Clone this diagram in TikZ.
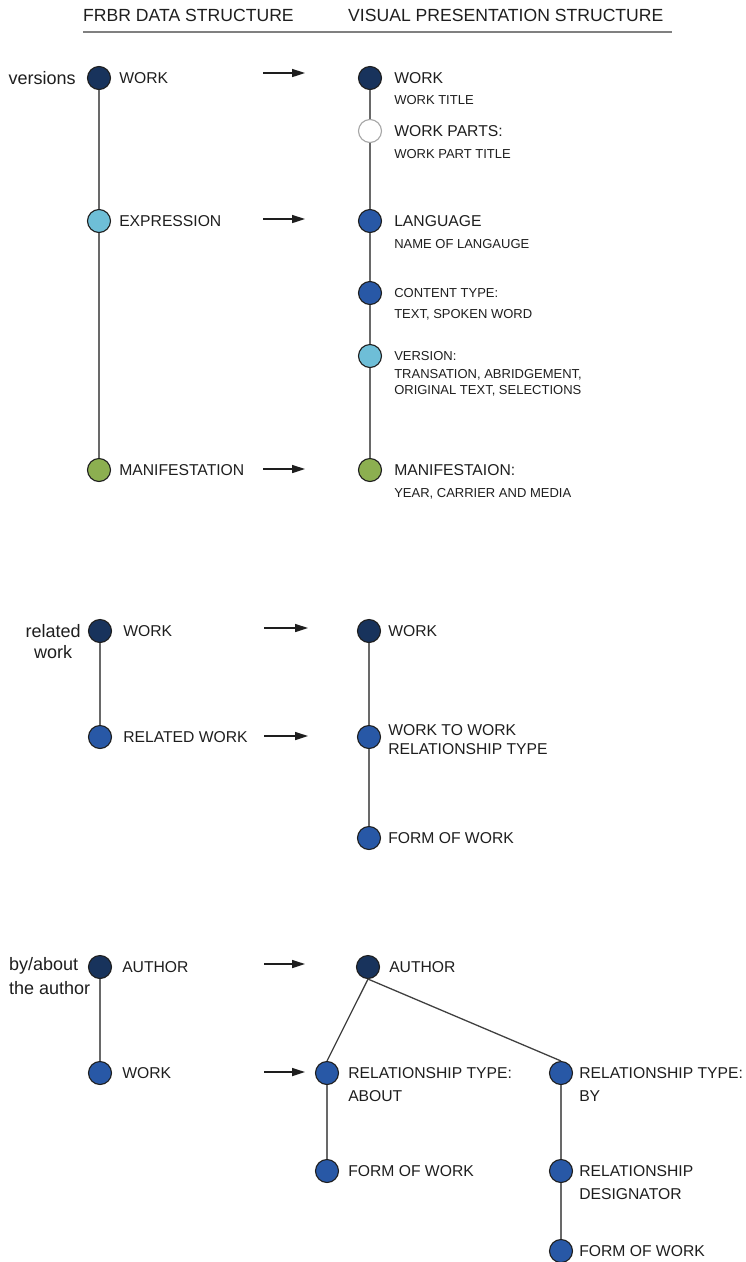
\documentclass[tikz,border=0pt]{standalone}
\usepackage{fontspec}
\setmainfont{Liberation Sans}
\usetikzlibrary{positioning, arrows.meta}
\definecolor{navy}{RGB}{24,51,92}
\definecolor{royal}{RGB}{40,88,166}
\definecolor{sky}{RGB}{110,190,215}
\definecolor{leaf}{RGB}{140,175,80}
\definecolor{ink}{RGB}{30,30,30}
\definecolor{stemgray}{RGB}{105,105,105}

\tikzset{
    dot/.style={circle, draw=ink, line width=1.1pt, minimum size=23pt, inner sep=0pt},
    head/.style={font=\fontsize{17.6}{20}\selectfont, text=ink, inner sep=0pt},
    main/.style={font=\fontsize{15.7}{18}\selectfont, text=ink, inner sep=0pt},
    small/.style={font=\fontsize{13}{16}\selectfont, text=ink, inner sep=0pt},
    note/.style={font=\fontsize{18}{21}\selectfont, text=ink, inner sep=0pt},
    stem/.style={draw=stemgray, line width=2pt},
    twig/.style={draw=ink!85, line width=1.3pt},
    pointer/.style={-{Triangle[length=13pt, width=8pt]}, draw=ink, line width=1.6pt}
}

\begin{document}
\begin{tikzpicture}[x=1pt, y=-1pt]
    \useasboundingbox (0,0) rectangle (745,1262);

    % headings
    \node[head, anchor=west] (frbr) at (83,15) {FRBR DATA STRUCTURE};
    \node[head, anchor=west] (visual) at (348,15) {VISUAL PRESENTATION STRUCTURE};
    \coordinate (ruleL) at (83,32);
    \coordinate (ruleR) at (672,32);
    \draw[draw=gray, line width=2.5pt] (ruleL) -- (ruleR);

    % versions
    \node[dot, fill=navy] (vW) at (99,78) {};
    \node[dot, fill=sky] (vE) at (99,221) {};
    \node[dot, fill=leaf] (vM) at (99,470) {};
    \draw[stem] (vW) -- (vE) -- (vM);
    \node[note, left=11pt of vW] (vNote) {versions};
    \node[main, right=8pt of vW] (vWt) {WORK};
    \node[main, right=8pt of vE] (vEt) {EXPRESSION};
    \node[main, right=8pt of vM] (vMt) {MANIFESTATION};

    \node[dot, fill=navy] (pW) at (370,78) {};
    \node[dot, fill=white, draw=gray!70] (pP) at (370,131) {};
    \node[dot, fill=royal] (pL) at (370,221) {};
    \node[dot, fill=royal] (pC) at (370,293) {};
    \node[dot, fill=sky] (pV) at (370,356) {};
    \node[dot, fill=leaf] (pM) at (370,470) {};
    \draw[stem] (pW) -- (pP) -- (pL) -- (pC) -- (pV) -- (pM);
    \node[main, right=12pt of pW] (pWt) {WORK};
    \node[small, below=22pt of pWt.west, anchor=west] (pWs) {WORK TITLE};
    \node[main, right=12pt of pP] (pPt) {WORK PARTS:};
    \node[small, below=23pt of pPt.west, anchor=west] (pPs) {WORK PART TITLE};
    \node[main, right=12pt of pL] (pLt) {LANGUAGE};
    \node[small, below=23pt of pLt.west, anchor=west] (pLs) {NAME OF LANGAUGE};
    \node[small, right=12pt of pC] (pCt) {CONTENT TYPE:};
    \node[small, below=22pt of pCt.west, anchor=west] (pCs) {TEXT, SPOKEN WORD};
    \node[small, right=12pt of pV] (pVt) {VERSION:};
    \node[small, align=left, below=27pt of pVt.west, anchor=west] (pVs) {TRANSATION, ABRIDGEMENT,\\ORIGINAL TEXT, SELECTIONS};
    \node[main, right=12pt of pM] (pMt) {MANIFESTAION:};
    \node[small, below=24pt of pMt.west, anchor=west] (pMs) {YEAR, CARRIER AND MEDIA};

    \coordinate (v1a) at (263,73);  \coordinate (v1b) at (305,73);
    \coordinate (v2a) at (263,219); \coordinate (v2b) at (305,219);
    \coordinate (v3a) at (263,469); \coordinate (v3b) at (305,469);
    \draw[pointer] (v1a) -- (v1b);
    \draw[pointer] (v2a) -- (v2b);
    \draw[pointer] (v3a) -- (v3b);

    % related work
    \node[dot, fill=navy] (rW) at (100,631) {};
    \node[dot, fill=royal] (rR) at (100,737) {};
    \draw[stem] (rW) -- (rR);
    \node[note, align=center, left=7pt of rW, anchor=north east, yshift=7pt] (rNote) {related\\work};
    \node[main, right=11pt of rW] (rWt) {WORK};
    \node[main, right=11pt of rR] (rRt) {RELATED WORK};

    \node[dot, fill=navy] (qW) at (369,631) {};
    \node[dot, fill=royal] (qT) at (369,737) {};
    \node[dot, fill=royal] (qF) at (369,838) {};
    \draw[stem] (qW) -- (qT) -- (qF);
    \node[main, right=7pt of qW] (qWt) {WORK};
    \node[main, align=left, font=\fontsize{15.7}{19}\selectfont, right=7pt of qT, yshift=-2.5pt] (qTt) {WORK TO WORK\\RELATIONSHIP TYPE};
    \node[main, right=7pt of qF] (qFt) {FORM OF WORK};

    \coordinate (r1a) at (264,628); \coordinate (r1b) at (308,628);
    \coordinate (r2a) at (264,736); \coordinate (r2b) at (308,736);
    \draw[pointer] (r1a) -- (r1b);
    \draw[pointer] (r2a) -- (r2b);

    % by/about the author
    \node[dot, fill=navy] (aA) at (100,967) {};
    \node[dot, fill=royal] (aW) at (100,1073) {};
    \draw[stem] (aA) -- (aW);
    \node[note, align=left, anchor=north west] (aNote) at (9,957) {by/about\\[3pt]the author};
    \node[main, right=10pt of aA] (aAt) {AUTHOR};
    \node[main, right=10pt of aW] (aWt) {WORK};

    \node[dot, fill=navy] (tA) at (368,967) {};
    \node[dot, fill=royal] (tAb) at (327,1073) {};
    \node[dot, fill=royal] (tBy) at (561,1073) {};
    \node[dot, fill=royal] (tAf) at (327,1171) {};
    \node[dot, fill=royal] (tBd) at (561,1171) {};
    \node[dot, fill=royal] (tBf) at (561,1251) {};
    \draw[twig] (tA.south) -- (tAb.north);
    \draw[twig] (tA.south) -- (tBy.north);
    \draw[stem] (tAb) -- (tAf);
    \draw[stem] (tBy) -- (tBd) -- (tBf);
    \node[main, right=9pt of tA] (tAt) {AUTHOR};
    \node[main, right=9pt of tAb] (tAbt) {RELATIONSHIP TYPE:};
    \node[main, below=23pt of tAbt.west, anchor=west] (tAbs) {ABOUT};
    \node[main, right=6pt of tBy] (tByt) {RELATIONSHIP TYPE:};
    \node[main, below=23pt of tByt.west, anchor=west] (tBys) {BY};
    \node[main, right=9pt of tAf] (tAft) {FORM OF WORK};
    \node[main, right=6pt of tBd] (tBdt) {RELATIONSHIP};
    \node[main, below=23pt of tBdt.west, anchor=west] (tBds) {DESIGNATOR};
    \node[main, right=6pt of tBf] (tBft) {FORM OF WORK};

    \coordinate (a1a) at (264,964);  \coordinate (a1b) at (305,964);
    \coordinate (a2a) at (264,1072); \coordinate (a2b) at (305,1072);
    \draw[pointer] (a1a) -- (a1b);
    \draw[pointer] (a2a) -- (a2b);
\end{tikzpicture}
\end{document}
